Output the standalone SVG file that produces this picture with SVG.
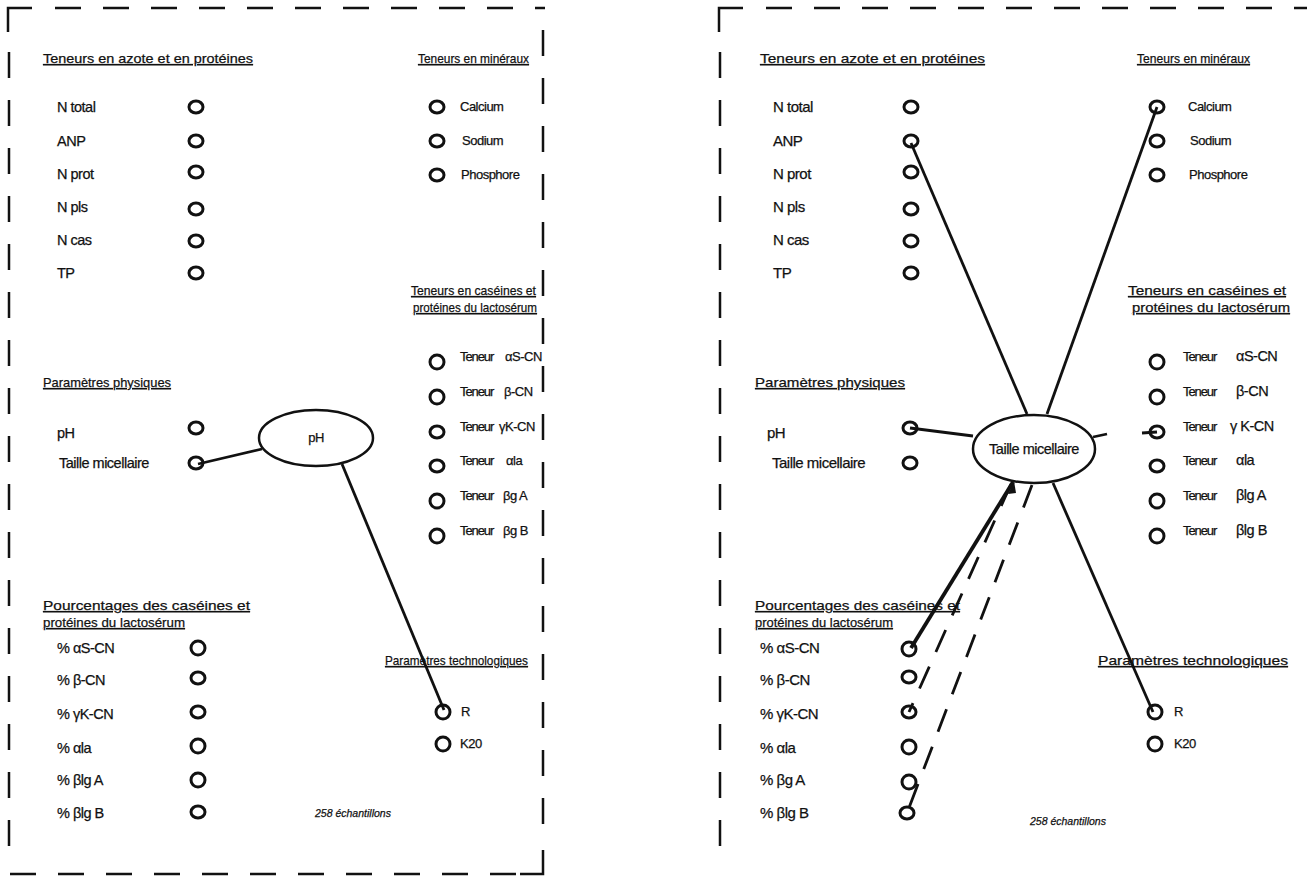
<svg xmlns="http://www.w3.org/2000/svg" width="1307" height="878" viewBox="0 0 1307 878">
<style>
text{font-family:"Liberation Sans",Arial,sans-serif;font-size:14.5px;fill:#111;stroke:#111;stroke-width:0.25;letter-spacing:-0.5px}
.h{text-decoration:underline;font-size:13.5px;letter-spacing:0}
.s{font-size:13px}
.r{font-size:15px}
.tn{font-size:13px;letter-spacing:-1.1px}
.it{font-style:italic;font-size:10.5px;letter-spacing:0}
.c{fill:none;stroke:#111;stroke-width:3}
.b{fill:none;stroke:#111;stroke-width:2.5}
.bd{fill:none;stroke:#111;stroke-width:2.5;stroke-dasharray:26 22}
.ln{fill:none;stroke:#111;stroke-width:2.8}
.lt{fill:none;stroke:#111;stroke-width:3.8}
.ld{fill:none;stroke:#111;stroke-width:2.8;stroke-dasharray:24 16}
.el{fill:#fff;stroke:#111;stroke-width:2.5}
</style>
<rect width="1307" height="878" fill="#fff"/>
<g id="frames">
<path class="b" d="M8 32V8H32"/>
<path class="bd" d="M55 8H545"/>
<path class="bd" d="M9 52V860"/>
<path class="bd" d="M543 30V840"/>
<path class="bd" d="M10 874H520"/>
<path class="b" d="M520 874H543V850"/>
<path class="b" d="M719 32V8H743"/>
<path class="bd" d="M766 8H1307"/>
<path class="bd" d="M720 52V860"/>
</g>
<g id="connectors">
<path class="ln" d="M198 464L262 449"/>
<path class="ln" d="M342 464L444 710"/>
<path class="ln" d="M911 143L1027 414"/>
<path class="ln" d="M1157 107L1047 414"/>
<path class="ln" d="M910 428L973 436"/>
<path class="ln" d="M1093 437L1107 434"/>
<path class="ln" d="M1142 433L1157 432"/>
<path class="ln" d="M1053 483L1153 712"/>
<path class="lt" d="M911 648L1013 482"/>
<path d="M1014 481L1008 494L1016 493Z" fill="#111"/>
<path class="ld" d="M1011 484L909 712"/>
<path class="ld" d="M1032 485L907 813"/>
</g>
<g id="left-panel">
<text x="43" y="63" class="h" textLength="210" lengthAdjust="spacingAndGlyphs">Teneurs en azote et en protéines</text>
<text x="418" y="63" class="h" textLength="111" lengthAdjust="spacingAndGlyphs">Teneurs en minéraux</text>
<g id="l-ntotal"><text x="57" y="112">N total</text><ellipse class="c" cx="196" cy="107" rx="7" ry="6"/></g>
<g id="l-anp"><text x="57" y="146">ANP</text><ellipse class="c" cx="196" cy="141" rx="7" ry="6"/></g>
<g id="l-nprot"><text x="57" y="179">N prot</text><ellipse class="c" cx="196" cy="172" rx="7" ry="6"/></g>
<g id="l-npls"><text x="57" y="212">N pls</text><ellipse class="c" cx="196" cy="209" rx="7" ry="6"/></g>
<g id="l-ncas"><text x="57" y="245">N cas</text><ellipse class="c" cx="196" cy="241" rx="7" ry="6"/></g>
<g id="l-tp"><text x="57" y="278">TP</text><ellipse class="c" cx="196" cy="273" rx="7" ry="6"/></g>
<g id="l-ca"><ellipse class="c" cx="437" cy="107" rx="7" ry="6"/><text x="460" y="111" class="s">Calcium</text></g>
<g id="l-na"><ellipse class="c" cx="437" cy="141" rx="7" ry="6"/><text x="462" y="145" class="s">Sodium</text></g>
<g id="l-p"><ellipse class="c" cx="437" cy="175" rx="7" ry="6"/><text x="461" y="179" class="s">Phosphore</text></g>
<text x="411" y="295" class="h" textLength="125" lengthAdjust="spacingAndGlyphs">Teneurs en caséines et</text>
<text x="413" y="312" class="h" textLength="124" lengthAdjust="spacingAndGlyphs">protéines du lactosérum</text>
<g id="l-t1"><ellipse class="c" cx="437" cy="362" rx="7" ry="7"/><text x="460" y="361" class="tn">Teneur</text><text x="505" y="361" class="s">αS-CN</text></g>
<g id="l-t2"><ellipse class="c" cx="437" cy="397" rx="7" ry="7"/><text x="460" y="396" class="tn">Teneur</text><text x="504" y="396" class="s">β-CN</text></g>
<g id="l-t3"><ellipse class="c" cx="437" cy="432" rx="7" ry="6"/><text x="460" y="431" class="tn">Teneur</text><text x="499" y="431" class="s">γK-CN</text></g>
<g id="l-t4"><ellipse class="c" cx="437" cy="466" rx="7" ry="6"/><text x="460" y="465" class="tn">Teneur</text><text x="506" y="465" class="s">αla</text></g>
<g id="l-t5"><ellipse class="c" cx="437" cy="501" rx="7" ry="7"/><text x="460" y="500" class="tn">Teneur</text><text x="503" y="500" class="s">βg A</text></g>
<g id="l-t6"><ellipse class="c" cx="437" cy="536" rx="7" ry="7"/><text x="460" y="535" class="tn">Teneur</text><text x="503" y="535" class="s">βg B</text></g>
<text x="43" y="387" class="h" textLength="128" lengthAdjust="spacingAndGlyphs">Paramètres physiques</text>
<g id="l-ph"><text x="57" y="438">pH</text><ellipse class="c" cx="196" cy="428" rx="7" ry="6"/></g>
<g id="l-tm"><text x="59" y="468">Taille micellaire</text><ellipse class="c" cx="196" cy="463" rx="7" ry="6"/></g>
<g id="l-center"><ellipse class="el" cx="316" cy="438" rx="57" ry="28"/><text x="316" y="442" text-anchor="middle" class="s">pH</text></g>
<text x="43" y="610" class="h" textLength="207" lengthAdjust="spacingAndGlyphs">Pourcentages des caséines et</text>
<text x="43" y="627" class="h" textLength="142" lengthAdjust="spacingAndGlyphs">protéines du lactosérum</text>
<g id="l-p1"><text x="57" y="653">% αS-CN</text><ellipse class="c" cx="198" cy="648" rx="7" ry="7"/></g>
<g id="l-p2"><text x="57" y="685">% β-CN</text><ellipse class="c" cx="198" cy="678" rx="7" ry="6"/></g>
<g id="l-p3"><text x="57" y="719">% γK-CN</text><ellipse class="c" cx="198" cy="712" rx="7" ry="6"/></g>
<g id="l-p4"><text x="57" y="753">% αla</text><ellipse class="c" cx="198" cy="746" rx="7" ry="7"/></g>
<g id="l-p5"><text x="57" y="785">% βlg A</text><ellipse class="c" cx="198" cy="780" rx="7" ry="7"/></g>
<g id="l-p6"><text x="57" y="818">% βlg B</text><ellipse class="c" cx="198" cy="812" rx="7" ry="6"/></g>
<text x="385" y="665" class="h" textLength="143" lengthAdjust="spacingAndGlyphs">Paramètres technologiques</text>
<g id="l-r"><ellipse class="c" cx="443" cy="712" rx="7" ry="7"/><text x="461" y="716" class="s">R</text></g>
<g id="l-k20"><ellipse class="c" cx="443" cy="744" rx="7" ry="7"/><text x="460" y="748" class="s">K20</text></g>
<text x="315" y="817" class="it">258  échantillons</text>
</g>
<g id="right-panel">
<text x="760" y="63" class="h" textLength="225" lengthAdjust="spacingAndGlyphs">Teneurs en azote et en protéines</text>
<text x="1137" y="63" class="h" textLength="113" lengthAdjust="spacingAndGlyphs">Teneurs en minéraux</text>
<g id="r-ntotal"><text x="773" y="112" class="r">N total</text><ellipse class="c" cx="911" cy="107" rx="7" ry="6"/></g>
<g id="r-anp"><text x="773" y="146" class="r">ANP</text><ellipse class="c" cx="911" cy="141" rx="7" ry="6"/></g>
<g id="r-nprot"><text x="773" y="179" class="r">N prot</text><ellipse class="c" cx="911" cy="172" rx="7" ry="6"/></g>
<g id="r-npls"><text x="773" y="212" class="r">N pls</text><ellipse class="c" cx="911" cy="209" rx="7" ry="6"/></g>
<g id="r-ncas"><text x="773" y="245" class="r">N cas</text><ellipse class="c" cx="911" cy="241" rx="7" ry="6"/></g>
<g id="r-tp"><text x="773" y="278" class="r">TP</text><ellipse class="c" cx="911" cy="273" rx="7" ry="6"/></g>
<g id="r-ca"><ellipse class="c" cx="1157" cy="107" rx="7" ry="6"/><text x="1188" y="111" class="s">Calcium</text></g>
<g id="r-na"><ellipse class="c" cx="1157" cy="141" rx="7" ry="6"/><text x="1190" y="145" class="s">Sodium</text></g>
<g id="r-p"><ellipse class="c" cx="1157" cy="175" rx="7" ry="6"/><text x="1189" y="179" class="s">Phosphore</text></g>
<text x="1128" y="295" class="h" textLength="158" lengthAdjust="spacingAndGlyphs">Teneurs en caséines et</text>
<text x="1132" y="312" class="h" textLength="158" lengthAdjust="spacingAndGlyphs">protéines du lactosérum</text>
<g id="r-t1"><ellipse class="c" cx="1157" cy="362" rx="7" ry="7"/><text x="1183" y="361" class="tn">Teneur</text><text x="1236" y="361">αS-CN</text></g>
<g id="r-t2"><ellipse class="c" cx="1157" cy="397" rx="7" ry="7"/><text x="1183" y="396" class="tn">Teneur</text><text x="1236" y="396">β-CN</text></g>
<g id="r-t3"><ellipse class="c" cx="1157" cy="432" rx="7" ry="6"/><text x="1183" y="431" class="tn">Teneur</text><text x="1230" y="431">γ K-CN</text></g>
<g id="r-t4"><ellipse class="c" cx="1157" cy="466" rx="7" ry="6"/><text x="1183" y="465" class="tn">Teneur</text><text x="1236" y="465">αla</text></g>
<g id="r-t5"><ellipse class="c" cx="1157" cy="501" rx="7" ry="7"/><text x="1183" y="500" class="tn">Teneur</text><text x="1236" y="500">βlg A</text></g>
<g id="r-t6"><ellipse class="c" cx="1157" cy="536" rx="7" ry="7"/><text x="1183" y="535" class="tn">Teneur</text><text x="1236" y="535">βlg B</text></g>
<text x="755" y="387" class="h" textLength="150" lengthAdjust="spacingAndGlyphs">Paramètres physiques</text>
<g id="r-ph"><text x="767" y="438" class="r">pH</text><ellipse class="c" cx="910" cy="428" rx="7" ry="6"/></g>
<g id="r-tm"><text x="772" y="468" class="r">Taille micellaire</text><ellipse class="c" cx="910" cy="463" rx="7" ry="6"/></g>
<g id="r-center"><ellipse class="el" cx="1034" cy="449" rx="61" ry="34"/><text x="1034" y="454" text-anchor="middle" letter-spacing="-0.3">Taille micellaire</text></g>
<text x="755" y="610" class="h" textLength="205" lengthAdjust="spacingAndGlyphs">Pourcentages des caséines et</text>
<text x="755" y="627" class="h" textLength="138" lengthAdjust="spacingAndGlyphs">protéines du lactosérum</text>
<g id="r-p1"><text x="760" y="653" class="r">% αS-CN</text><ellipse class="c" cx="909" cy="649" rx="7" ry="7"/></g>
<g id="r-p2"><text x="760" y="685" class="r">% β-CN</text><ellipse class="c" cx="909" cy="677" rx="7" ry="6"/></g>
<g id="r-p3"><text x="760" y="719" class="r">% γK-CN</text><ellipse class="c" cx="909" cy="712" rx="7" ry="6"/></g>
<g id="r-p4"><text x="760" y="753" class="r">% αla</text><ellipse class="c" cx="909" cy="747" rx="7" ry="7"/></g>
<g id="r-p5"><text x="760" y="785" class="r">% βg A</text><ellipse class="c" cx="909" cy="782" rx="7" ry="7"/></g>
<g id="r-p6"><text x="760" y="818" class="r">% βlg B</text><ellipse class="c" cx="907" cy="813" rx="7" ry="6"/></g>
<text x="1098" y="665" class="h" textLength="190" lengthAdjust="spacingAndGlyphs">Paramètres technologiques</text>
<g id="r-r"><ellipse class="c" cx="1155" cy="712" rx="7" ry="7"/><text x="1174" y="716" class="s">R</text></g>
<g id="r-k20"><ellipse class="c" cx="1155" cy="744" rx="7" ry="7"/><text x="1174" y="748" class="s">K20</text></g>
<text x="1030" y="825" class="it">258  échantillons</text>
</g>
</svg>
